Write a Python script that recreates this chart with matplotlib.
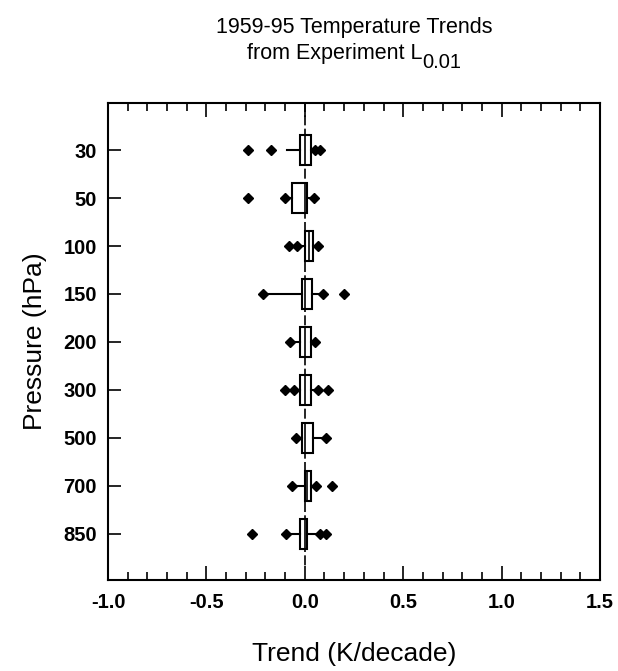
import matplotlib.pyplot as plt

plt.rcParams['font.family'] = ['Liberation Sans', 'DejaVu Sans']

levels = ['30', '50', '100', '150', '200', '300', '500', '700', '850']
q1 = [-0.025, -0.065, 0.0, -0.015, -0.025, -0.025, -0.015, 0.0, -0.025]
med = [0.0, 0.0, 0.02, 0.0, 0.0, 0.0, 0.0, 0.012, 0.0]
q3 = [0.03, 0.012, 0.04, 0.036, 0.03, 0.03, 0.042, 0.03, 0.01]
whislo = [-0.09, -0.10, -0.04, -0.21, -0.076, -0.055, -0.046, -0.066, -0.097]
whishi = [0.045, 0.047, 0.066, 0.09, 0.05, 0.067, 0.11, 0.056, 0.107]
fliers = [
    [-0.29, -0.17, 0.05, 0.076],
    [-0.29, -0.10, 0.047],
    [-0.08, -0.04, 0.066],
    [-0.21, 0.09, 0.2],
    [-0.076, 0.05],
    [-0.10, -0.055, 0.067, 0.118],
    [-0.046, 0.11],
    [-0.066, 0.056, 0.137],
    [-0.27, -0.097, 0.076, 0.107],
]

stats = []
for i in range(len(levels)):
    stats.append(dict(med=med[i], q1=q1[i], q3=q3[i], whislo=whislo[i],
                      whishi=whishi[i], fliers=fliers[i]))

W, H = 618, 671
fig = plt.figure(figsize=(W / 100, H / 100), dpi=100)
ax = fig.add_axes([108 / W, 1 - 580 / H, 492 / W, 477 / H])

pos = list(range(len(levels)))
ax.vlines(0, -1.0, 8.67, colors='black', lw=1.2, linestyles=(0, (6, 2)), zorder=1)
ax.bxp(stats, positions=pos, vert=False, widths=0.62, showcaps=False,
       patch_artist=True,
       boxprops=dict(facecolor='white', edgecolor='black', lw=1.5),
       medianprops=dict(color='black', lw=1.2),
       whiskerprops=dict(color='black', lw=1.5),
       flierprops=dict(marker='D', markersize=5.5, markerfacecolor='black',
                       markeredgecolor='black'))

ax.set_xlim(-1.0, 1.5)
ax.set_ylim(8.96, -0.98)
ax.set_yticks(pos)
ax.set_yticklabels(levels, fontweight='bold')
ax.set_xticks([-1.0, -0.5, 0.0, 0.5, 1.0, 1.5])
ax.set_xticklabels(['-1.0', '-0.5', '0.0', '0.5', '1.0', '1.5'], fontweight='bold')
ax.set_xticks([x / 10 for x in range(-10, 16)], minor=True)
ax.tick_params(axis='x', which='major', direction='in', length=10, width=1.2,
               top=True, labelsize=14.5, pad=9)
ax.tick_params(axis='x', which='minor', direction='in', length=6, width=1.2, top=True)
ax.tick_params(axis='y', which='major', direction='in', length=9, width=1.2,
               labelsize=14.5, pad=8)
for s in ax.spines.values():
    s.set_linewidth(1.5)

ax.set_xlabel('Trend (K/decade)', fontsize=19, labelpad=22)
ax.set_ylabel('Pressure (hPa)', fontsize=19, labelpad=12)

# title: two lines, with a large manual subscript on the second
cx = (108 + 600) / 2 / W
fig.text(cx, 1 - 27 / H, '1959-95 Temperature Trends', ha='center', va='center',
         fontsize=15.5)
t2 = fig.text(0, 1 - 53 / H, 'from Experiment L', ha='left', va='center', fontsize=15.5)
t3 = fig.text(0, 1 - 62 / H, '0.01', ha='left', va='center', fontsize=14.5)
r = fig.canvas.get_renderer()
w2 = t2.get_window_extent(r).width
w3 = t3.get_window_extent(r).width
x0 = cx * W - (w2 + w3) / 2
t2.set_x(x0 / W)
t3.set_x((x0 + w2) / W)

fig.savefig('out.png', dpi=100)
